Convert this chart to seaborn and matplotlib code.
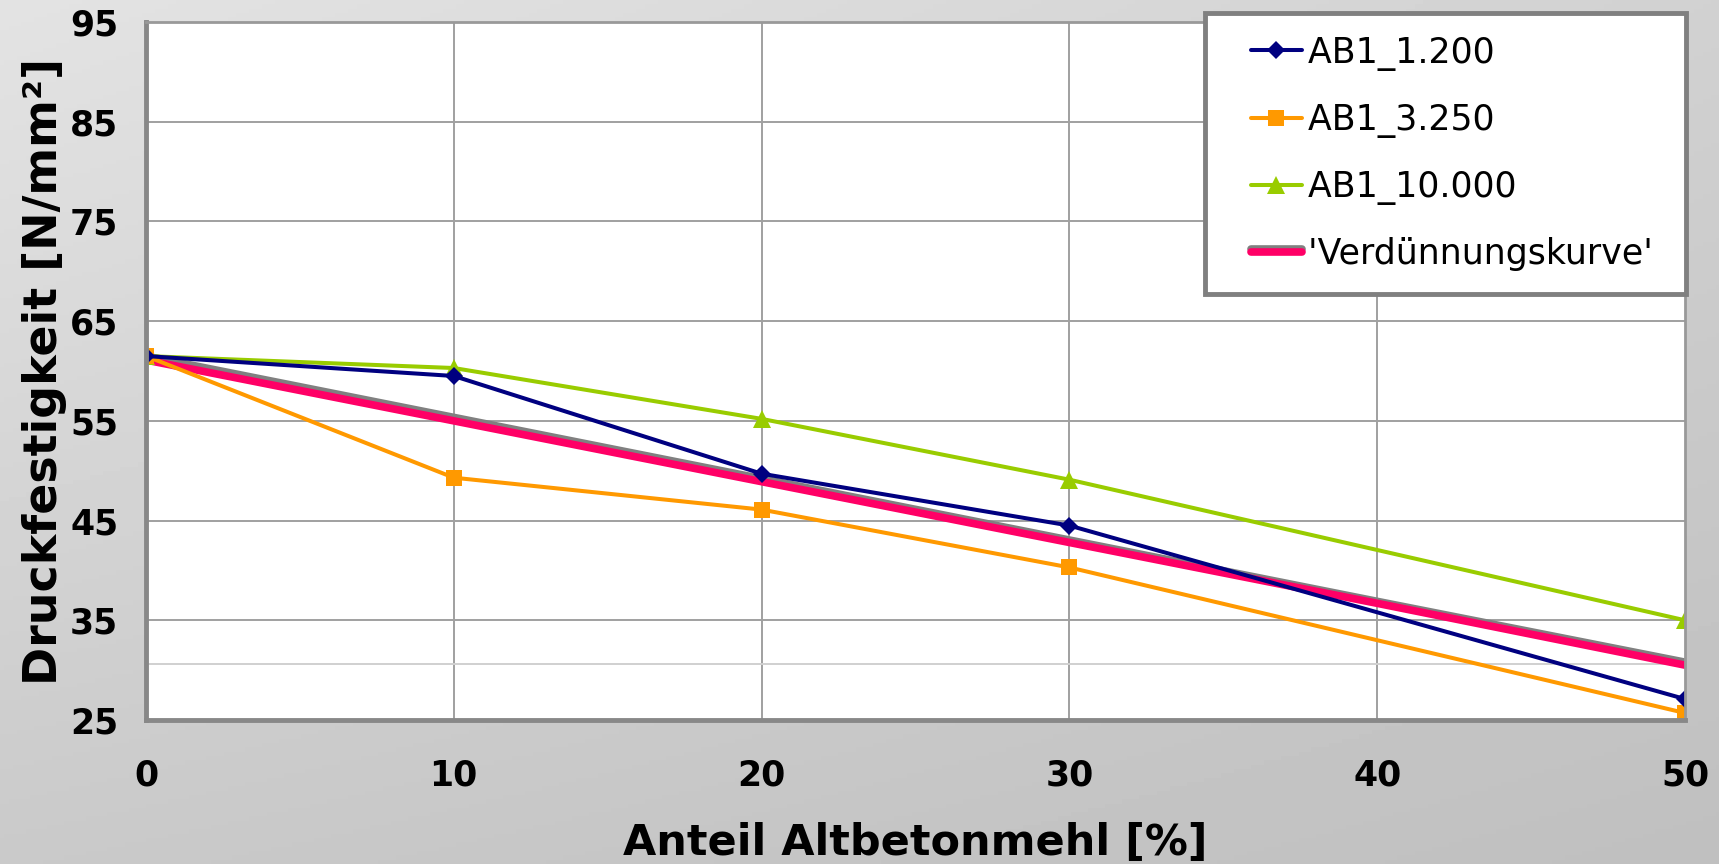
import numpy as np
import pandas as pd
import matplotlib
matplotlib.use("Agg")
import matplotlib.pyplot as plt
import matplotlib.patheffects as pe
import seaborn as sns
from matplotlib.lines import Line2D
from matplotlib.legend_handler import HandlerLine2D

# Anteil Altbetonmehl [%]
anteil = [0, 10, 20, 30, 40, 50]
anteil_messung = [0, 10, 20, 30, 50]

# Druckfestigkeit [N/mm²]
ab1_1200 = [61.5, 59.5, 49.7, 44.5, 27.1]
ab1_3250 = [61.5, 49.3, 46.1, 40.3, 25.7]
ab1_10000 = [61.5, 60.3, 55.2, 49.1, 35.0]
verduennung = [61.1, 55.0, 48.9, 42.8, 36.7, 30.5]
verduennung_schatten = [61.5, 55.35, 49.2, 43.05, 36.9, 30.8]
referenzlinie = 30.6

labels = ["AB1_1.200", "AB1_3.250", "AB1_10.000", "'Verdünnungskurve'"]
yticks = [25, 35, 45, 55, 65, 75, 85, 95]
xticks = [0, 10, 20, 30, 40, 50]

sns.set_theme(style="white")
plt.rcParams["font.family"] = ["DejaVu Sans"]
plt.rcParams["text.color"] = "black"
plt.rcParams["axes.labelcolor"] = "black"

fig = plt.figure(figsize=(17.19, 8.64), dpi=100)

# grey backdrop behind the chart
bg = fig.add_axes([0, 0, 1, 1], zorder=-10)
yy, xx = np.mgrid[0:1:200j, 0:1:400j]
shade = 0.86 - 0.07 * yy - 0.04 * xx + 0.03 * (1 - xx) * (1 - yy)
bg.imshow(shade, cmap="gray", vmin=0, vmax=1, aspect="auto", extent=[0, 1, 0, 1])
bg.set_axis_off()

ax = fig.add_axes([0.0849, 0.1667, 0.8953, 0.8078])
ax.set_facecolor("white")

grid_c = "#a0a0a0"
for yv in yticks[1:-1]:
    ax.axhline(yv, color=grid_c, lw=1.4, zorder=1)
for xv in xticks[1:-1]:
    ax.axvline(xv, color=grid_c, lw=1.4, zorder=1)
ax.axhline(referenzlinie, color="#d0d0d0", lw=1.4, zorder=1)

df_mess = pd.DataFrame({"x": anteil_messung, "a": ab1_1200, "b": ab1_3250, "c": ab1_10000})
df_verd = pd.DataFrame({"x": anteil, "v": verduennung, "s": verduennung_schatten})

sns.lineplot(data=df_verd, x="x", y="s", ax=ax, color="#808080", lw=5.5,
             solid_capstyle="round", zorder=3)
sns.lineplot(data=df_verd, x="x", y="v", ax=ax, color="#FF0066", lw=5.5,
             solid_capstyle="round", zorder=4)
sns.lineplot(data=df_mess, x="x", y="c", ax=ax, color="#99CC00", lw=2.9,
             marker="^", markersize=13, markeredgewidth=0, zorder=5)
sns.lineplot(data=df_mess, x="x", y="a", ax=ax, color="#000080", lw=2.9,
             marker="D", markersize=9, markeredgewidth=0, zorder=6)
sns.lineplot(data=df_mess, x="x", y="b", ax=ax, color="#FF9900", lw=2.9,
             marker="s", markersize=11, markeredgewidth=0, zorder=5)

ax.set_xlim(0, 50)
ax.set_ylim(25, 95)
ax.set_xticks(xticks)
ax.set_yticks(yticks)
ax.tick_params(axis="both", which="major", direction="out", length=10, width=1.5,
               color="#909090", labelsize=25, labelcolor="black")
ax.tick_params(axis="x", pad=18)
ax.tick_params(axis="y", pad=10)
for lab in ax.get_xticklabels() + ax.get_yticklabels():
    lab.set_fontweight("bold")

for side in ["left", "bottom"]:
    ax.spines[side].set_color("#888888")
    ax.spines[side].set_linewidth(3.5)
for side in ["top", "right"]:
    ax.spines[side].set_color("#999999")
    ax.spines[side].set_linewidth(2)
for sp in ax.spines.values():
    sp.set_zorder(7)

ax.set_xlabel("Anteil Altbetonmehl [%]", fontsize=31, fontweight="bold",
              labelpad=21, color="black")
ax.set_ylabel("Druckfestigkeit [N/mm²]", fontsize=33, fontweight="bold",
              labelpad=2, color="black")


class InsetLineHandler(HandlerLine2D):
    """Draws the legend sample only over the right part of the handle box."""

    def __init__(self, keep=37.0, **kw):
        super().__init__(**kw)
        self.keep = keep

    def create_artists(self, legend, orig_handle, xdescent, ydescent, width,
                       height, fontsize, trans):
        shift = max(width - self.keep, 0)
        return super().create_artists(legend, orig_handle, xdescent - shift,
                                      ydescent, width - shift, height,
                                      fontsize, trans)


h1 = Line2D([], [], color="#000080", lw=2.9, marker="D", markersize=9, markeredgewidth=0)
h2 = Line2D([], [], color="#FF9900", lw=2.9, marker="s", markersize=11, markeredgewidth=0)
h3 = Line2D([], [], color="#99CC00", lw=2.9, marker="^", markersize=13, markeredgewidth=0)
h4 = Line2D([], [], color="#FF0066", lw=5.5, solid_capstyle="round")
h4.set_path_effects([pe.SimpleLineShadow(offset=(0, 2.5), shadow_color="#808080", alpha=1),
                     pe.Normal()])

hm = {h: InsetLineHandler(keep=37.0) for h in (h1, h2, h3, h4)}
leg = fig.legend([h1, h2, h3, h4], [lab + " " for lab in labels], loc="upper right",
                 bbox_to_anchor=(1686 / 1719, 1 - 13 / 864),
                 fontsize=25, frameon=True, fancybox=False, shadow=False,
                 handlelength=2.15, handletextpad=0.16, labelspacing=0.93,
                 borderpad=0.65, borderaxespad=0, handler_map=hm)
leg.get_frame().set_edgecolor("#808080")
leg.get_frame().set_linewidth(3.5)
leg.get_frame().set_facecolor("white")
leg.get_frame().set_alpha(1)
leg.set_zorder(20)
for t in leg.get_texts():
    t.set_color("black")

fig.savefig("out.png", dpi=100)
